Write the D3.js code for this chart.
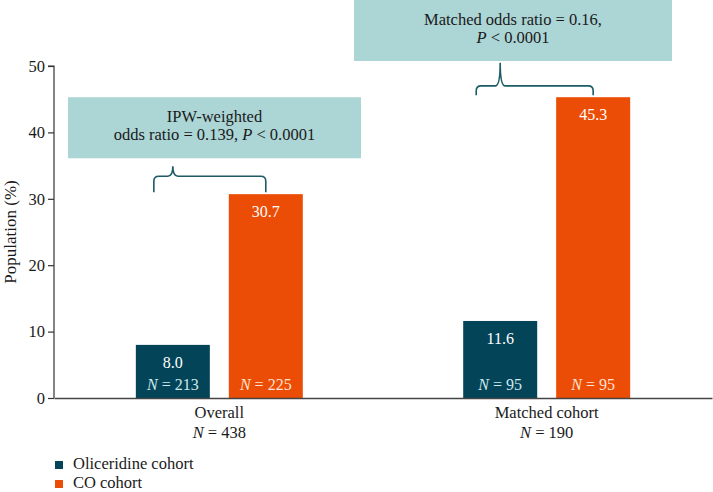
<!DOCTYPE html>
<html><head><meta charset="utf-8">
<script src="https://cdn.jsdelivr.net/npm/d3@7"></script>
<style>body{margin:0;background:#fff;}</style></head>
<body>
<svg id="chart" width="713" height="492"></svg>
<script>
const categories = ["Overall", "Matched cohort"];
const categoryN = ["438", "190"];
const series = ["Oliceridine cohort", "CO cohort"];
const oliceridineValues = [8.0, 11.6];
const coValues = [30.7, 45.3];
const oliceridineN = ["213", "95"];
const coN = ["225", "95"];
const yTicks = [0, 10, 20, 30, 40, 50];
const annotations = [
  {lines: [["IPW-weighted"], ["odds ratio = 0.139, ", {i:"P"}, " < 0.0001"]]},
  {lines: [["Matched odds ratio = 0.16,"], [{i:"P"}, " < 0.0001"]]}
];

const FONT = '"Liberation Serif"';
const colors = {"Oliceridine cohort": "#034458", "CO cohort": "#ec4d06"};
const nColors = {"Oliceridine cohort": "#cde8ee", "CO cohort": "#ffe3d2"};

const svg = d3.select("#chart");
const x0 = d3.scaleBand().domain(categories).range([54, 712]).paddingInner(0.49).paddingOuter(0.25);
const x1 = d3.scaleBand().domain(series).range([0, x0.bandwidth()]).paddingInner(0.204);
const y = d3.scaleLinear().domain([0, 50]).range([398, 66]);

const data = categories.map((c, i) => ({
  cat: c,
  vals: [
    {s: series[0], v: oliceridineValues[i], n: oliceridineN[i]},
    {s: series[1], v: coValues[i], n: coN[i]}
  ]
}));

const boxLayout = [
  {x0: 68, x1: 361, yTop: 45.3, yBot: 36.1, line1: 41.6, hy: 33.4, tipTop: 34.9, leftOff: -19},
  {x0: 354, x1: 672, yTop: 60.5, yBot: 50.75, line1: 56.2, hy: 47.0, tipTop: 50.5, leftOff: -24}
];
boxLayout.forEach((b, i) => {
  svg.append("rect").attr("x", b.x0).attr("y", y(b.yTop)).attr("width", b.x1 - b.x0)
    .attr("height", y(b.yBot) - y(b.yTop)).attr("fill", "#acd5d6");
  const cx = (b.x0 + b.x1) / 2;
  annotations[i].lines.forEach((ln, k) => {
    const t = svg.append("text").attr("x", cx).attr("y", y(b.line1) + k * 18)
      .attr("text-anchor", "middle").attr("font-size", 16.5).attr("fill", "#1a1a1a").style("font-family", FONT);
    ln.forEach(part => {
      if (typeof part === "string") t.append("tspan").style("font-family", FONT).text(part);
      else t.append("tspan").style("font-family", FONT).attr("font-style", "italic").text(part.i);
    });
  });
  const cat = categories[i];
  const tx = x0(cat) + x1(series[0]) + x1.bandwidth() / 2;
  const xr = x0(cat) + x1(series[1]) + x1.bandwidth() / 2;
  const xl = tx + b.leftOff;
  const hy = y(b.hy), yb = y(coValues[i]) - 2, tt = y(b.tipTop);
  const r = 5;
  const p = `M${xl},${yb} V${hy + r} Q${xl},${hy} ${xl + r},${hy} H${tx - r} Q${tx},${hy} ${tx},${tt}` +
            ` Q${tx},${hy} ${tx + r},${hy} H${xr - r} Q${xr},${hy} ${xr},${hy + r} V${yb}`;
  svg.append("path").attr("d", p).attr("fill", "none").attr("stroke", "#1d5b66").attr("stroke-width", 1.6);
});

const groups = svg.append("g").selectAll("g.grp").data(data).join("g").attr("class", "grp")
  .attr("transform", d => `translate(${x0(d.cat)},0)`);
groups.selectAll("rect").data(d => d.vals).join("rect")
  .attr("x", d => x1(d.s)).attr("y", d => y(d.v))
  .attr("width", x1.bandwidth()).attr("height", d => y(0) - y(d.v))
  .attr("fill", d => colors[d.s]);
groups.selectAll("text.val").data(d => d.vals).join("text").attr("class", "val")
  .attr("x", d => x1(d.s) + x1.bandwidth() / 2).attr("y", d => y(d.v) + 23)
  .attr("text-anchor", "middle").attr("font-size", 16).attr("fill", "#ffffff").style("font-family", FONT)
  .text(d => d.v.toFixed(1));
groups.selectAll("text.n").data(d => d.vals).join("text").attr("class", "n")
  .attr("x", d => x1(d.s) + x1.bandwidth() / 2).attr("y", y(0) - 8)
  .attr("text-anchor", "middle").attr("font-size", 16).attr("fill", d => nColors[d.s]).style("font-family", FONT)
  .each(function(d) {
    const t = d3.select(this);
    t.append("tspan").style("font-family", FONT).attr("font-style", "italic").text("N");
    t.append("tspan").style("font-family", FONT).text(" = " + d.n);
  });

const yAxis = d3.axisLeft(y).tickValues(yTicks).tickSize(6).tickPadding(3).tickFormat(d3.format("d"));
const ya = svg.append("g").attr("transform", "translate(54,0)").call(yAxis);
ya.attr("font-family", null).style("font-family", FONT);
ya.select(".domain").attr("stroke", "#333").attr("stroke-width", 1.2).attr("d", `M-6,${y(50)}H0V${y(0)}`);
ya.selectAll(".tick line").attr("stroke", "#333").attr("stroke-width", 1.2);
ya.selectAll(".tick text").attr("font-size", 16.5).attr("fill", "#1a1a1a").style("font-family", FONT);

const xa = svg.append("g").attr("transform", `translate(0,${y(0)})`)
  .call(d3.axisBottom(x0).tickSize(0).tickFormat(""));
xa.selectAll(".tick").remove();
xa.select(".domain").attr("stroke", "#444").attr("stroke-width", 1.5);

categories.forEach((c, i) => {
  svg.append("text").attr("x", x0(c) + x0.bandwidth() / 2).attr("y", 418)
    .attr("text-anchor", "middle").attr("font-size", 16.5).attr("fill", "#1a1a1a").style("font-family", FONT).text(c);
  const t = svg.append("text").attr("x", x0(c) + x0.bandwidth() / 2).attr("y", 438)
    .attr("text-anchor", "middle").attr("font-size", 16.5).attr("fill", "#1a1a1a").style("font-family", FONT);
  t.append("tspan").style("font-family", FONT).attr("font-style", "italic").text("N");
  t.append("tspan").style("font-family", FONT).text(" = " + categoryN[i]);
});

svg.append("text").attr("transform", `translate(16,${(y(0) + y(50)) / 2}) rotate(-90)`)
  .attr("text-anchor", "middle").attr("font-size", 17).attr("fill", "#1a1a1a").style("font-family", FONT)
  .text("Population (%)");

series.forEach((s, i) => {
  svg.append("rect").attr("x", 55).attr("y", 461 + i * 19).attr("width", 8).attr("height", 8).attr("fill", colors[s]);
  svg.append("text").attr("x", 73).attr("y", 469 + i * 19).attr("font-size", 16.5).attr("fill", "#1a1a1a")
    .style("font-family", FONT).text(s);
});
</script>
</body></html>
